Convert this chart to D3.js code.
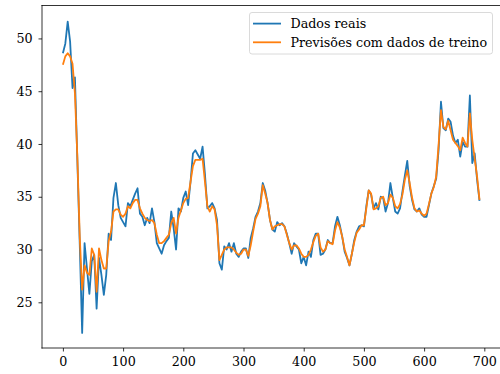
<!DOCTYPE html>
<html>
<head>
<meta charset="utf-8">
<script src="https://cdn.jsdelivr.net/npm/d3@7"></script>
<style>
  html, body { margin: 0; padding: 0; background: #fff; }
  svg { display: block; }
</style>
</head>
<body>
<svg id="chart" width="500" height="374"></svg>
<script>
// sampled every 4 days
const step = 4;

const realValues = [
  48.6, 49.5, 51.6, 49.7, 45.3, 46.3, 38.5, 30.5, 22.1, 30.6,
  28.2, 25.8, 28.9, 29.5, 24.4, 29.2, 27.6, 25.7, 27.6, 31.5,
  30.9, 34.9, 36.3, 34.2, 33.0, 32.6, 32.2, 34.4, 34.1, 34.7,
  35.3, 35.8, 33.4, 33.1, 32.3, 33.0, 32.5, 33.9, 32.6, 30.6,
  30.1, 29.6, 30.4, 30.8, 31.1, 33.6, 32.0, 30.0, 33.9, 33.6,
  34.9, 35.5, 34.2, 36.4, 39.1, 39.4, 39.0, 38.6, 39.75, 37.1,
  33.9, 34.1, 34.4, 33.9, 32.8, 28.7, 28.1, 30.3, 30.0, 30.6,
  29.8, 30.6, 29.6, 29.3, 29.8, 30.1, 30.1, 29.2, 31.1, 32.0,
  33.1, 33.6, 34.4, 36.3, 35.6, 34.4, 32.8, 31.9, 31.7, 32.6,
  32.3, 32.5, 32.2, 31.5, 30.6, 29.6, 30.6, 30.3, 30.0, 28.7,
  29.3, 28.5, 29.8, 29.3, 30.9, 31.5, 31.5, 29.5, 29.6, 30.0,
  30.9, 30.6, 30.6, 32.2, 33.1, 32.3, 31.2, 29.8, 29.2, 28.5,
  29.6, 30.9, 31.7, 32.2, 32.3, 32.2, 34.1, 35.6, 35.2, 33.9,
  34.4, 33.8, 35.0, 34.9, 33.6, 34.4, 36.3, 34.9, 33.6, 33.4,
  33.9, 35.5, 37.0, 38.4, 36.0, 34.7, 33.8, 33.6, 33.9, 33.3,
  33.1, 33.1, 34.2, 35.3, 36.0, 36.7, 39.4, 44.0, 41.5, 41.3,
  42.4, 42.1, 40.8, 40.1, 40.4, 38.8, 40.2, 39.75, 39.75, 44.6,
  38.2, 39.1, 36.6, 34.6
];

const trainPredictions = [
  47.5, 48.3, 48.6, 48.3, 47.6, 44.8, 38.8, 31.2, 26.2, 28.5,
  27.8, 27.6, 30.1, 29.5, 26.0, 30.1, 29.0, 28.2, 28.2, 30.8,
  31.7, 33.6, 33.8, 33.8, 33.3, 33.1, 33.4, 34.1, 33.9, 34.4,
  34.7, 34.7, 33.9, 33.4, 33.0, 32.8, 32.7, 32.8, 32.5, 31.4,
  30.6, 30.6, 30.8, 31.1, 31.4, 32.5, 33.0, 31.5, 33.0, 33.7,
  34.4, 34.8, 34.9, 36.4, 37.9, 38.5, 38.5, 38.5, 38.6, 36.4,
  34.1, 33.6, 34.1, 33.8, 32.3, 29.0, 29.5, 30.0, 30.2, 30.2,
  30.2, 30.0, 29.7, 29.5, 29.6, 30.0, 30.0, 29.4, 30.4, 31.7,
  32.9, 33.4, 34.1, 36.1, 35.3, 34.4, 32.8, 31.9, 32.2, 32.3,
  32.4, 32.4, 32.2, 31.4, 30.6, 30.0, 30.4, 30.4, 30.1, 29.6,
  29.3, 29.3, 29.5, 30.0, 30.7, 31.3, 31.5, 30.2, 29.8, 30.0,
  30.8, 30.6, 30.5, 31.8, 32.6, 32.1, 31.2, 30.0, 29.3, 28.5,
  29.6, 30.7, 31.6, 31.9, 32.3, 32.3, 33.9, 35.6, 35.3, 33.8,
  33.9, 34.1, 34.9, 35.0, 34.2, 34.4, 35.2, 34.9, 34.1, 33.9,
  34.3, 35.2, 36.6, 37.5, 36.3, 34.9, 33.9, 33.6, 33.7, 33.4,
  33.2, 33.4, 34.3, 35.3, 35.9, 36.9, 39.9, 43.2, 41.6, 41.4,
  42.2, 41.3, 40.4, 40.1, 39.8, 39.4, 40.6, 40.1, 39.75, 42.9,
  40.4, 38.6, 36.9, 34.7
];

const xTicks = [0, 100, 200, 300, 400, 500, 600, 700];
const yTicks = [25, 30, 35, 40, 45, 50];
const seriesNames = ['Dados reais', 'Previsões com dados de treino'];
const seriesColors = ['#1f77b4', '#ff7f0e'];

const fontStack = '"DejaVu Serif", "Liberation Serif", serif';
const fontSize = 12.7;

const svg = d3.select('#chart');
const box = { left: 42, top: 5.5, right: 501.6, bottom: 348 };

const x = d3.scaleLinear().domain([-34.7, 728.7]).range([box.left, box.right]);
const y = d3.scaleLinear().domain([20.67, 53.12]).range([box.bottom, box.top]);

svg.append('defs').append('clipPath').attr('id', 'clip')
  .append('rect')
  .attr('x', box.left).attr('y', box.top)
  .attr('width', box.right - box.left).attr('height', box.bottom - box.top);

const line = d3.line()
  .x((d, i) => x(i * step))
  .y(d => y(d));

[realValues, trainPredictions].forEach((vals, s) => {
  svg.append('path')
    .datum(vals)
    .attr('clip-path', 'url(#clip)')
    .attr('fill', 'none')
    .attr('stroke', seriesColors[s])
    .attr('stroke-width', 1.8)
    .attr('stroke-linejoin', 'round')
    .attr('d', line);
});

// axes
const xAxis = svg.append('g')
  .attr('transform', `translate(0,${box.bottom})`)
  .call(d3.axisBottom(x).tickValues(xTicks).tickSize(3.5).tickPadding(5.8).tickFormat(d3.format('d')));
const yAxis = svg.append('g')
  .attr('transform', `translate(${box.left},0)`)
  .call(d3.axisLeft(y).tickValues(yTicks).tickSize(3.5).tickPadding(5.8).tickFormat(d3.format('d')));

[xAxis, yAxis].forEach(g => {
  g.attr('font-family', fontStack).attr('font-size', fontSize);
  g.select('.domain').remove();
  g.selectAll('line').attr('stroke', '#000').attr('stroke-width', 0.8);
  g.selectAll('text').attr('fill', '#000');
});

// spines
const spines = [
  [box.left, box.top, box.left, box.bottom],
  [box.left, box.bottom, box.right, box.bottom],
  [box.left, box.top, box.right, box.top],
  [box.right, box.top, box.right, box.bottom]
];
spines.forEach(s => {
  svg.append('line')
    .attr('x1', s[0]).attr('y1', s[1]).attr('x2', s[2]).attr('y2', s[3])
    .attr('stroke', '#000').attr('stroke-width', 0.8)
    .attr('stroke-linecap', 'square');
});

// legend
const legend = svg.append('g')
  .attr('font-family', fontStack)
  .attr('font-size', fontSize);
legend.append('rect')
  .attr('x', 249.5).attr('y', 12.5)
  .attr('width', 243).attr('height', 41.5)
  .attr('rx', 2.5)
  .attr('fill', '#fff').attr('fill-opacity', 0.8)
  .attr('stroke', '#d0d0d0').attr('stroke-width', 0.8);

seriesNames.forEach((name, i) => {
  const ly = 23.6 + i * 18.7;
  legend.append('line')
    .attr('x1', 253).attr('x2', 281)
    .attr('y1', ly).attr('y2', ly)
    .attr('stroke', seriesColors[i]).attr('stroke-width', 1.8);
  legend.append('text')
    .attr('x', 290.5).attr('y', ly + 4.7)
    .attr('fill', '#000')
    .text(name);
});
</script>
</body>
</html>
